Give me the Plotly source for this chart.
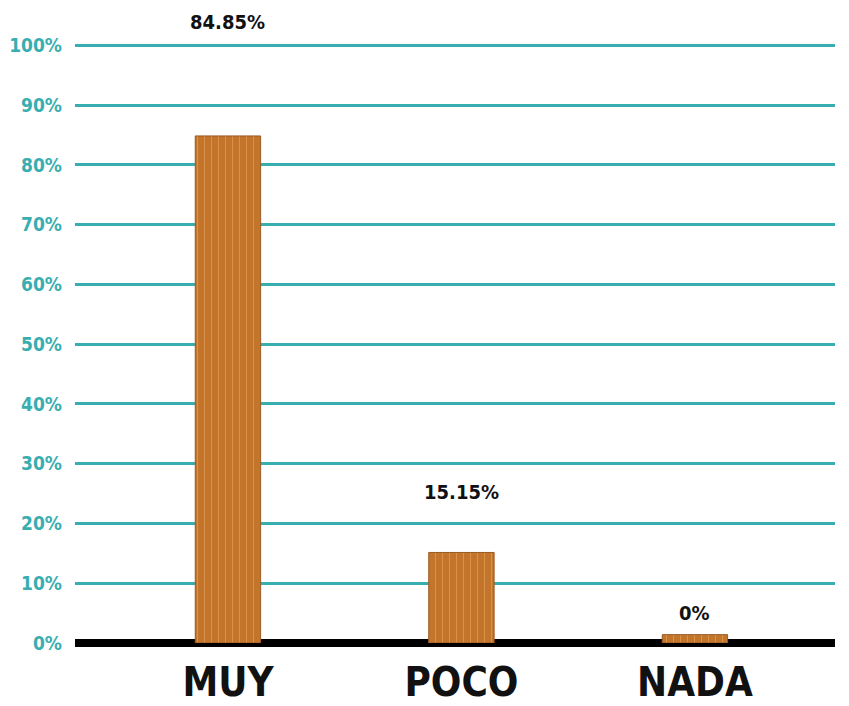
import plotly.graph_objects as go

categories = ["MUY", "POCO", "NADA"]
values = [84.85, 15.15, 0]
value_labels = ["84.85%", "15.15%", "0%"]
y_ticks = [0, 10, 20, 30, 40, 50, 60, 70, 80, 90, 100]
y_tick_text = ["0%", "10%", "20%", "30%", "40%", "50%", "60%", "70%", "80%", "90%", "100%"]

TEAL = "#38AEB0"
WOOD = "#C4752C"
FONT = "DejaVu Sans Condensed, Roboto Condensed, Liberation Sans Narrow, Roboto, sans-serif"
STUB = 1.4  # small plank drawn for a zero value
label_shift = [100, 46, 16]

fig = go.Figure()

fig.add_trace(go.Bar(
    x=categories,
    y=[max(v, STUB) for v in values],
    width=0.28,
    marker=dict(
        color=WOOD,
        line=dict(color="#9A5A22", width=1),
        pattern=dict(shape="|", fgcolor="#E9A45A", size=7, solidity=0.15, fgopacity=0.6),
    ),
    showlegend=False,
    hoverinfo="skip",
))

for cat, v, lab, sh in zip(categories, values, value_labels, label_shift):
    fig.add_annotation(
        x=cat, y=v, text=lab, showarrow=False,
        yanchor="bottom", yshift=sh,
        font=dict(family=FONT, size=20, color="#111111", weight="bold"),
    )

# page body has an 8px margin, so the figure is sized to fit the window
fig.update_layout(
    width=833, height=698,
    margin=dict(l=67, r=6, t=35, b=63),
    plot_bgcolor="white", paper_bgcolor="white",
    bargap=0.5,
)
fig.update_xaxes(
    range=[-0.655, 2.6], automargin=False,
    showgrid=False, showline=False, ticks="",
    tickfont=dict(family=FONT, size=40, color="#111111", weight="bold"),
    ticklabelstandoff=12,
)
fig.update_yaxes(
    range=[0, 100.4], automargin=False,
    tickmode="array", tickvals=y_ticks, ticktext=y_tick_text,
    tickfont=dict(family=FONT, size=19, color=TEAL, weight="bold"),
    showgrid=True, gridcolor=TEAL, gridwidth=3,
    zeroline=True, zerolinecolor="black", zerolinewidth=8,
    showline=False, ticks="", ticklabelstandoff=12,
)

fig.write_html("out.html")
